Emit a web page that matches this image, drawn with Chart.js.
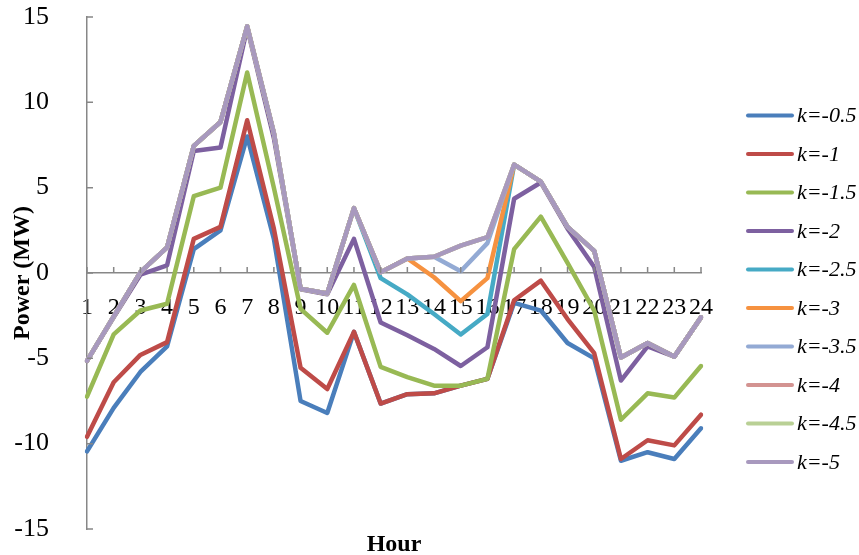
<!DOCTYPE html>
<html>
<head>
<meta charset="utf-8">
<title>Power by hour for different k</title>
<script src="https://cdn.jsdelivr.net/npm/chart.js@4/dist/chart.umd.min.js"></script>
<style>
  html, body { margin: 0; padding: 0; background: #ffffff; }
  #wrap { width: 859px; height: 555px; }
</style>
</head>
<body>
<div id="wrap"><canvas id="c" width="859" height="555"></canvas></div>
<script>
// Hours of the day (category axis)
const hours = ['1','2','3','4','5','6','7','8','9','10','11','12',
               '13','14','15','16','17','18','19','20','21','22','23','24'];

// Series names
const seriesNames = ['k=-0.5','k=-1','k=-1.5','k=-2','k=-2.5',
                     'k=-3','k=-3.5','k=-4','k=-4.5','k=-5'];

// Power (MW) per hour for each k
const powerK05 = [-10.45,-7.9,-5.8,-4.3,1.4,2.5,8.0,2.0,-7.5,-8.2,-3.45,-7.65,-7.1,-7.05,-6.6,-6.2,-1.75,-2.2,-4.1,-5.0,-11.0,-10.5,-10.9,-9.1];
const powerK1  = [-9.6,-6.4,-4.8,-4.05,2.0,2.7,8.95,2.6,-5.55,-6.8,-3.45,-7.65,-7.1,-7.05,-6.6,-6.2,-1.6,-0.45,-2.7,-4.7,-10.9,-9.8,-10.1,-8.3];
const powerK15 = [-7.25,-3.6,-2.2,-1.8,4.5,5.0,11.75,5.0,-2.1,-3.5,-0.7,-5.5,-6.1,-6.6,-6.6,-6.2,1.4,3.3,0.6,-2.2,-8.6,-7.05,-7.3,-5.45];
const powerK2  = [-5.15,-2.6,-0.1,0.45,7.15,7.35,14.35,7.9,-0.95,-1.25,2.0,-2.9,-3.65,-4.45,-5.45,-4.35,4.35,5.3,2.6,0.35,-6.3,-4.3,-4.9,-2.6];
const powerK25 = [-5.15,-2.55,0.05,1.5,7.45,8.85,14.45,8.2,-0.92,-1.2,3.8,-0.3,-1.25,-2.4,-3.6,-2.4,6.35,5.35,2.7,1.3,-4.95,-4.1,-4.9,-2.6];
const powerK3  = [-5.15,-2.55,0.05,1.5,7.45,8.85,14.45,8.2,-0.92,-1.2,3.8,0.05,0.85,-0.25,-1.65,-0.3,6.35,5.35,2.7,1.3,-4.95,-4.1,-4.9,-2.6];
const powerK35 = [-5.15,-2.55,0.05,1.5,7.45,8.85,14.45,8.2,-0.92,-1.2,3.8,0.05,0.85,0.95,0.1,1.75,6.35,5.35,2.7,1.3,-4.95,-4.1,-4.9,-2.6];
const powerK4  = [-5.15,-2.55,0.05,1.5,7.45,8.85,14.45,8.2,-0.92,-1.2,3.8,0.05,0.85,0.95,1.6,2.1,6.35,5.35,2.7,1.3,-4.95,-4.1,-4.9,-2.6];
const powerK45 = [-5.15,-2.55,0.05,1.5,7.45,8.85,14.45,8.2,-0.92,-1.2,3.8,0.05,0.85,0.95,1.6,2.1,6.35,5.35,2.7,1.3,-4.95,-4.1,-4.9,-2.6];
const powerK5  = [-5.15,-2.55,0.05,1.5,7.45,8.85,14.45,8.2,-0.92,-1.2,3.8,0.05,0.85,0.95,1.6,2.1,6.35,5.35,2.7,1.3,-4.95,-4.1,-4.9,-2.6];

// Y-axis tick values
const powerTicks = [-15,-10,-5,0,5,10,15];

const seriesValues = [powerK05, powerK1, powerK15, powerK2, powerK25,
                      powerK3, powerK35, powerK4, powerK45, powerK5];
const seriesColors = ['#4A7EBB','#BE4B48','#98B954','#7D60A0','#46AAC5',
                      '#F69240','#93AAD4','#D39391','#B9D095','#A899BE'];

const AXIS_COLOR = '#878787';
const SERIF = '"Liberation Serif", "Times New Roman", serif';

// Later series are drawn on top of earlier ones
const datasets = seriesValues.map((vals, i) => ({
  label: seriesNames[i],
  data: vals,
  borderColor: seriesColors[i],
  backgroundColor: seriesColors[i],
  borderWidth: 4.5,
  pointRadius: 0,
  pointHoverRadius: 0,
  tension: 0,
  fill: false,
  borderJoinStyle: 'round',
  borderCapStyle: 'round',
  order: seriesValues.length - i
}));

// Inside tick marks on both axes, the "Hour" caption and the legend
const decorations = {
  id: 'decorations',
  afterDraw(chart) {
    const ctx = chart.ctx;
    const xs = chart.scales.x, ys = chart.scales.y;
    const area = chart.chartArea;
    const y0 = ys.getPixelForValue(0);
    ctx.save();
    ctx.strokeStyle = AXIS_COLOR;
    ctx.lineWidth = 1.5;
    ctx.beginPath();
    hours.forEach((h, i) => {
      const px = xs.getPixelForValue(i);
      ctx.moveTo(px, y0);
      ctx.lineTo(px, y0 - 6);
    });
    powerTicks.forEach(v => {
      const py = ys.getPixelForValue(v);
      ctx.moveTo(area.left, py);
      ctx.lineTo(area.left + 6, py);
    });
    ctx.stroke();

    // x caption
    ctx.fillStyle = '#000';
    ctx.font = 'bold 24px ' + SERIF;
    ctx.textAlign = 'center';
    ctx.textBaseline = 'middle';
    ctx.fillText('Hour', (area.left + area.right) / 2, 545);

    // legend
    ctx.font = 'italic 22px ' + SERIF;
    ctx.textAlign = 'left';
    ctx.lineCap = 'round';
    chart.data.datasets.forEach((ds, i) => {
      const ly = 115.5 + i * 38.5;
      ctx.strokeStyle = ds.borderColor;
      ctx.lineWidth = 4;
      ctx.beginPath();
      ctx.moveTo(748, ly);
      ctx.lineTo(792, ly);
      ctx.stroke();
      ctx.fillStyle = '#000';
      ctx.fillText(ds.label, 797, ly + 1);
    });
    ctx.restore();
  }
};

new Chart(document.getElementById('c'), {
  type: 'line',
  data: { labels: hours, datasets },
  options: {
    responsive: false,
    animation: false,
    devicePixelRatio: 1,
    events: [],
    layout: { padding: { top: 17, right: 158, bottom: 26, left: 0 } },
    plugins: { legend: { display: false }, tooltip: { enabled: false } },
    scales: {
      x: {
        type: 'category',
        offset: false,
        position: { y: 0 },
        afterFit(s) { s.height = 0; s.paddingTop = 0; s.paddingBottom = 0; s.paddingLeft = 0; s.paddingRight = 0; },
        grid: { display: false },
        border: { display: true, color: AXIS_COLOR, width: 1.5 },
        ticks: {
          color: '#000',
          padding: 12,
          maxRotation: 0,
          autoSkip: false,
          font: { family: SERIF, size: 24 }
        }
      },
      y: {
        position: 'left',
        min: -15,
        max: 15,
        afterFit(s) { s.width = 87; s.paddingTop = 0; s.paddingBottom = 0; },
        afterBuildTicks(s) { s.ticks = powerTicks.map(v => ({ value: v })); },
        grid: { display: false },
        border: { display: true, color: AXIS_COLOR, width: 1.5 },
        ticks: {
          color: '#000',
          padding: 30,
          font: { family: SERIF, size: 26 }
        },
        title: {
          display: true,
          text: 'Power (MW)',
          color: '#000',
          font: { family: SERIF, size: 24, weight: 'bold' },
          padding: { top: 8, bottom: 0 }
        }
      }
    }
  },
  plugins: [decorations]
});
</script>
</body>
</html>
